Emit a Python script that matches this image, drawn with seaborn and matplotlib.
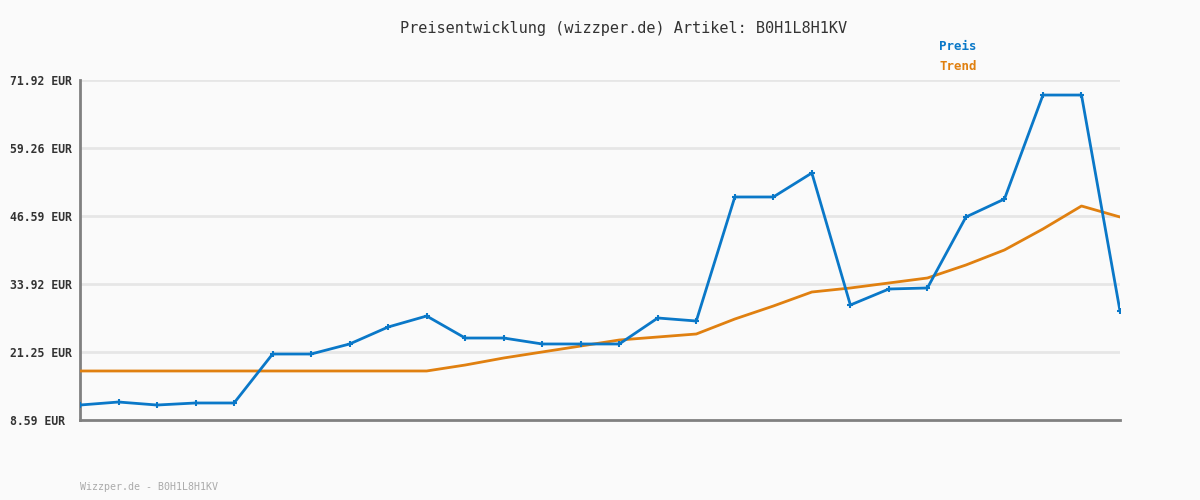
import matplotlib
matplotlib.use("Agg")
import matplotlib.pyplot as plt
import seaborn as sns
import pandas as pd
import numpy as np

price = [11.38, 11.94, 11.38, 11.76, 11.76, 20.88, 20.88, 22.75, 25.91, 27.96,
         23.86, 23.86, 22.75, 22.75, 22.75, 27.59, 27.03, 50.13, 50.13, 54.60,
         30.01, 32.99, 33.18, 46.40, 49.75, 69.12, 69.12, 28.89]
trend = [17.72, 17.72, 17.72, 17.72, 17.72, 17.72, 17.72, 17.72, 17.72, 17.72,
         18.83, 20.14, 21.26, 22.37, 23.49, 24.05, 24.61, 27.40, 29.82, 32.43,
         33.18, 34.11, 35.04, 37.46, 40.26, 44.17, 48.45, 46.40]
yticks = [8.59, 21.25, 33.92, 46.59, 59.26, 71.92]
ytick_labels = [f"{v:.2f} EUR" for v in yticks]
title = "Preisentwicklung (wizzper.de) Artikel: B0H1L8H1KV"
footer = "Wizzper.de - B0H1L8H1KV"

idx = np.arange(len(price))
df = pd.DataFrame({"idx": idx, "Preis": price, "Trend": trend})

sns.set_style("white")
plt.rcParams['font.family'] = ['DejaVu Sans Mono']

BLUE = "#0a78c8"
ORANGE = "#e08010"
BG = "#fafafa"

fig = plt.figure(figsize=(12, 5), dpi=100, facecolor=BG)
ax = fig.add_axes([80/1200, 80/500, 1040/1200, 340/500])
ax.set_facecolor(BG)

sns.lineplot(data=df, x="idx", y="Trend", ax=ax, color=ORANGE, linewidth=2, zorder=3)
sns.lineplot(data=df, x="idx", y="Preis", ax=ax, color=BLUE, linewidth=2,
             marker="+", markersize=5, markeredgewidth=1.5, markeredgecolor=BLUE, zorder=4)

ax.set_xlim(0, len(price) - 1)
ax.set_ylim(yticks[0], yticks[-1])
ax.set_yticks(yticks)
ax.set_yticklabels(ytick_labels, fontsize=8.3, fontweight="bold", color="#333333", ha="left")
ax.set_xticks([])
ax.set_xlabel("")
ax.set_ylabel("")
ax.tick_params(axis="y", length=0, pad=70 * 0.72)
for v in yticks[1:]:
    ax.axhline(v, color="#e6e6e6", linewidth=2, zorder=1)
for s in ["top", "right"]:
    ax.spines[s].set_visible(False)
for s in ["left", "bottom"]:
    ax.spines[s].set_color("#808080")
    ax.spines[s].set_linewidth(2)

fig.text(624/1200, 1 - 28/500, title, ha="center", va="center", fontsize=11, color="#333333")
fig.text(939/1200, 1 - 47/500, "Preis", ha="left", va="center", fontsize=9, fontweight="bold", color=BLUE)
fig.text(939/1200, 1 - 67/500, "Trend", ha="left", va="center", fontsize=9, fontweight="bold", color=ORANGE)
fig.text(80/1200, 1 - 487/500, footer, ha="left", va="center", fontsize=7.2, color="#aaaaaa")

fig.savefig("out.png", dpi=100, facecolor=BG)
